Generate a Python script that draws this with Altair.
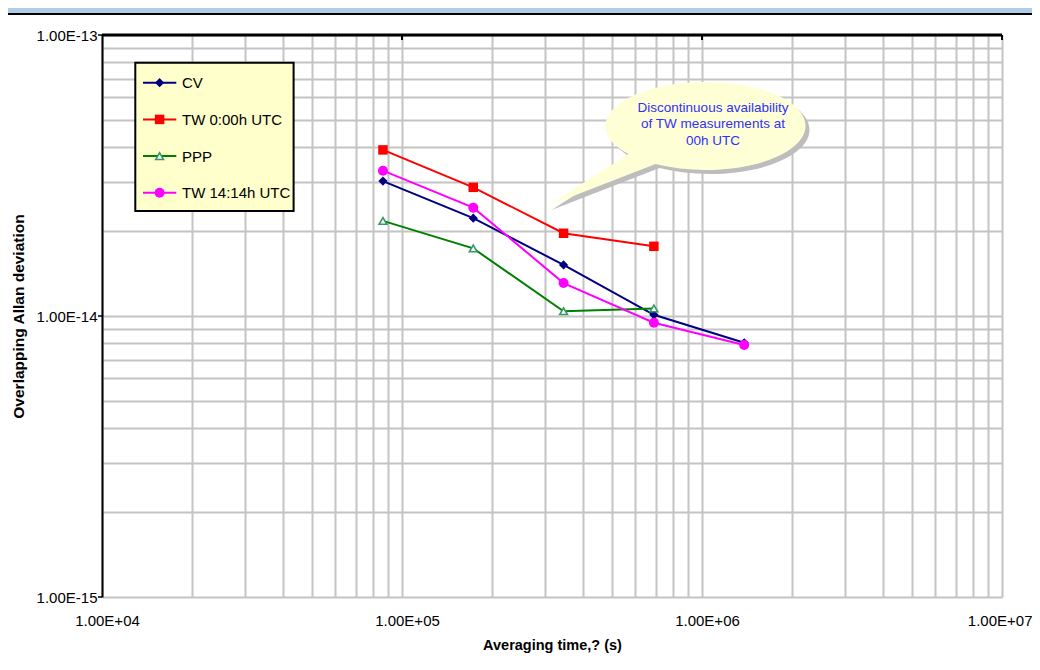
import altair as alt
import pandas as pd

# ---- data ----
tau = [86400, 172800, 345600, 691200, 1382400]
series_names = ["CV", "TW 0:00h UTC", "PPP", "TW 14:14h UTC"]
cv = [3.02e-14, 2.23e-14, 1.52e-14, 1.01e-14, 8.03e-15]
tw00 = [3.90e-14, 2.87e-14, 1.97e-14, 1.77e-14]
ppp = [2.18e-14, 1.74e-14, 1.04e-14, 1.064e-14]
tw14 = [3.29e-14, 2.43e-14, 1.31e-14, 9.46e-15, 7.88e-15]

x_decades = [1e4, 1e5, 1e6, 1e7]
x_labels = ["1.00E+04", "1.00E+05", "1.00E+06", "1.00E+07"]
y_decades = [1e-15, 1e-14, 1e-13]
y_labels = ["1.00E-15", "1.00E-14", "1.00E-13"]
callout_lines = ["Discontinuous availability", "of TW measurements at", "00h UTC"]
x_title = "Averaging time,? (s)"
y_title = "Overlapping Allan deviation"

series_values = [cv, tw00, ppp, tw14]
line_colors = ["#000080", "#FF0000", "#008000", "#FF00FF"]
marker_colors = ["#000080", "#FF0000", "#339966", "#FF00FF"]
marker_shapes = ["diamond", "square", "triangle-up", "circle"]
marker_filled = [True, True, False, True]
marker_sizes = [85, 90, 60, 100]

W, H = 900, 562
GRID = "#C4C4C4"
FONT = "Liberation Sans"

x_grid = [d * m for d in x_decades[:-1] for m in range(1, 10)] + [x_decades[-1]]
y_grid = [d * m for d in y_decades[:-1] for m in range(1, 10)] + [y_decades[-1]]


def label_expr(vals, labs):
    expr = "''"
    for v, lab in reversed(list(zip(vals, labs))):
        expr = f"datum.value == {v!r} ? '{lab}' : {expr}"
    return expr


last_x = f"datum.value == {x_decades[-1]!r}"

xscale = alt.Scale(type="log", domain=[x_decades[0], x_decades[-1]], nice=False)
yscale = alt.Scale(type="log", domain=[y_decades[0], y_decades[-1]], nice=False)

xaxis = alt.Axis(
    orient="bottom", values=x_grid, grid=True, gridColor=GRID, gridWidth=2,
    domain=False, ticks=False, labelExpr=label_expr(x_decades, x_labels),
    labelFont=FONT, labelFontSize=15, labelColor="black", labelPadding=16,
    labelAlign={"condition": {"test": last_x, "value": "right"}, "value": "center"},
    labelOffset={"condition": {"test": last_x, "value": 30}, "value": 5},
    labelOverlap=False, labelFlush=False, labelBound=False,
    title=x_title, titleFont=FONT, titleFontSize=14.5, titleFontWeight="bold",
    titleColor="black", titleY=48, titleBaseline="middle",
)
yaxis = alt.Axis(
    orient="left", values=y_grid, grid=True, gridColor=GRID, gridWidth=2,
    domain=True, domainColor="black", domainWidth=2, ticks=False,
    labelExpr=label_expr(y_decades, y_labels), labelFont=FONT, labelFontSize=15,
    labelColor="black", labelPadding=5, labelOverlap=False, labelFlush=False,
    labelBaseline="middle",
    title=y_title, titleFont=FONT, titleFontSize=15.5, titleFontWeight="bold",
    titleColor="black", titleX=-84, titleY=H / 2, titleAngle=270,
    titleBaseline="middle", titleAlign="center",
)

X = alt.X("tau:Q", scale=xscale, axis=xaxis)
Y = alt.Y("adev:Q", scale=yscale, axis=yaxis)

layers = []
dummy = pd.DataFrame({"k": [0]})

# header band (decoration)
layers.append(alt.Chart(dummy).mark_rect(color="#AFCDE6").encode(
    x=alt.value(-94), x2=alt.value(W + 30), y=alt.value(-27), y2=alt.value(-22)))
layers.append(alt.Chart(dummy).mark_rect(color="black").encode(
    x=alt.value(-94), x2=alt.value(W + 30), y=alt.value(-22), y2=alt.value(-20)))

# data series
for name, vals, lc, mc, shp, fil, sz in zip(series_names, series_values, line_colors,
                                           marker_colors, marker_shapes, marker_filled, marker_sizes):
    df = pd.DataFrame({"tau": tau[:len(vals)], "adev": vals, "series": name})
    layers.append(alt.Chart(df).mark_line(color=lc, strokeWidth=2).encode(x=X, y=Y))
    if fil:
        pm = alt.Chart(df).mark_point(shape=shp, filled=True, color=mc, size=sz, opacity=1)
    else:
        pm = alt.Chart(df).mark_point(shape=shp, filled=False, fill="white", stroke=mc,
                                      strokeWidth=1.6, size=sz, opacity=1, fillOpacity=1)
    layers.append(pm.encode(x=X, y=Y))

# top frame line and inward decade ticks
layers.append(alt.Chart(dummy).mark_rule(color="black", strokeWidth=3).encode(
    x=alt.value(0), x2=alt.value(W), y=alt.value(0)))
top_ticks = pd.DataFrame({"tau": x_decades[1:]})
layers.append(alt.Chart(top_ticks).mark_rule(color="black", strokeWidth=2).encode(
    x=X, y=alt.value(0), y2=alt.value(5)))
left_ticks = pd.DataFrame({"adev": y_decades})
layers.append(alt.Chart(left_ticks).mark_rule(color="black", strokeWidth=1.5).encode(
    y=Y, x=alt.value(-4), x2=alt.value(0)))

# callout bubble (ellipse rx=1, ry=0.44 in symbol units, with a pointer)
bubble = "M-0.77,0.2807 L-1.58,0.80 L-0.50,0.381 A1,0.44 0 1,0 -0.77,0.2807 Z"
cx, cy = 603.5, 91
layers.append(alt.Chart(dummy).mark_point(shape=bubble, filled=True, color="#BDBDBD",
                                          size=40000, opacity=1, strokeWidth=0).encode(
    x=alt.value(cx + 4), y=alt.value(cy + 4)))
layers.append(alt.Chart(dummy).mark_point(shape=bubble, filled=True, color="#FFFFD6",
                                          size=40000, opacity=1, strokeWidth=0).encode(
    x=alt.value(cx), y=alt.value(cy)))
layers.append(alt.Chart(dummy).mark_text(
    align="center", baseline="alphabetic", lineHeight=16.5, font=FONT, fontSize=13.5,
    color="#2F2FFF").encode(x=alt.value(611), y=alt.value(76.5), text=alt.value(callout_lines)))

# legend box
LX0, LX1, LY0, LY1 = 33.3, 191.6, 27.7, 176
layers.append(alt.Chart(dummy).mark_rect(color="#FFFFCC").encode(
    x=alt.value(LX0), x2=alt.value(LX1), y=alt.value(LY0), y2=alt.value(LY1)))
for i, (name, lc, mc, shp, fil, sz) in enumerate(zip(series_names, line_colors, marker_colors,
                                                     marker_shapes, marker_filled, marker_sizes)):
    ly = 47.7 + i * 36.7
    layers.append(alt.Chart(dummy).mark_rule(color=lc, strokeWidth=2).encode(
        x=alt.value(41), x2=alt.value(74.3), y=alt.value(ly)))
    if fil:
        pm = alt.Chart(dummy).mark_point(shape=shp, filled=True, color=mc, size=sz, opacity=1)
    else:
        pm = alt.Chart(dummy).mark_point(shape=shp, filled=False, fill="white", stroke=mc,
                                         strokeWidth=1.6, size=sz, opacity=1, fillOpacity=1)
    layers.append(pm.encode(x=alt.value(57.6), y=alt.value(ly)))
    layers.append(alt.Chart(dummy).mark_text(align="left", baseline="middle", font=FONT,
                                             fontSize=15, color="black").encode(
        x=alt.value(80), y=alt.value(ly + 0.5), text=alt.value(name)))
layers.append(alt.Chart(dummy).mark_rect(fill=None, stroke="black", strokeWidth=2).encode(
    x=alt.value(LX0), x2=alt.value(LX1), y=alt.value(LY0), y2=alt.value(LY1)))

chart = alt.layer(*layers).properties(
    width=W, height=H, autosize="none",
    padding={"left": 94, "top": 27, "right": 30, "bottom": 65},
).configure_view(stroke=None)

chart.save("out.html", embed_options={"renderer": "svg", "actions": False})
